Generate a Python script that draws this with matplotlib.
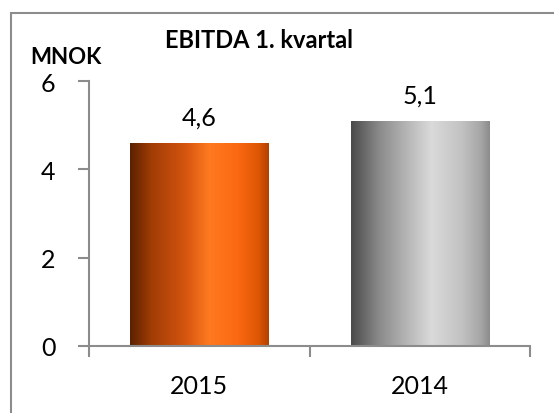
import matplotlib
matplotlib.use("Agg")
import matplotlib.pyplot as plt
import numpy as np
from matplotlib.colors import LinearSegmentedColormap
from matplotlib.patches import Rectangle

categories = ["2015", "2014"]
values = [4.6, 5.1]
value_labels = ["4,6", "5,1"]
yticks = [0, 2, 4, 6]
title = "EBITDA 1. kvartal"
unit = "MNOK"

plt.rcParams['font.family'] = ['Lato', 'DejaVu Sans']

fig = plt.figure(figsize=(5.54, 4.14), dpi=100)
# outer chart border
fig.patches.append(Rectangle((11/554, -0.1), 1.2, 1 - 14/414 + 0.1,
                             transform=fig.transFigure, fill=False,
                             edgecolor='#8c8c8c', linewidth=1.5))

ax = fig.add_axes([89/554, 1 - 347/414, (530 - 89)/554, (347 - 82)/414])
x = np.arange(len(categories))
bars = ax.bar(x, values, width=0.627, color='none', edgecolor='none', zorder=2)

orange = LinearSegmentedColormap.from_list('o', [
    (0.0, '#5a2200'), (0.15, '#a03c05'), (0.4, '#d55510'), (0.57, '#ff7a20'),
    (0.78, '#fb6810'), (0.93, '#dc5605'), (1.0, '#b04200')])
gray = LinearSegmentedColormap.from_list('g', [
    (0.0, '#4a4a4a'), (0.2, '#8a8a8a'), (0.4, '#b5b5b5'), (0.58, '#dadada'),
    (0.8, '#c2c2c2'), (0.94, '#a5a5a5'), (1.0, '#8c8c8c')])
grad = np.linspace(0, 1, 256).reshape(1, -1)
for b, cmap in zip(bars, [orange, gray]):
    x0, w, h = b.get_x(), b.get_width(), b.get_height()
    im = ax.imshow(grad, cmap=cmap, extent=[x0, x0 + w, 0, h], aspect='auto',
                   zorder=2, interpolation='bilinear')
    im.set_clip_path(b)

ax.set_xlim(-0.5, len(categories) - 0.5)
ax.set_ylim(0, 6)
ax.set_yticks(yticks)
ax.set_yticklabels([str(t) for t in yticks])
ax.set_xticks(x)
ax.set_xticklabels(categories)
ax.set_xticks([-0.5, 0.5, 1.5], minor=True)
ax.tick_params(axis='x', which='major', length=0, pad=20, labelsize=18)
ax.tick_params(axis='x', which='minor', length=8, width=1.5, color='#8c8c8c', direction='out')
ax.tick_params(axis='y', length=8, width=1.5, color='#8c8c8c', pad=16, labelsize=18)
for s in ['top', 'right']:
    ax.spines[s].set_visible(False)
for s in ['left', 'bottom']:
    ax.spines[s].set_color('#8c8c8c')
    ax.spines[s].set_linewidth(1.5)

for b, lab in zip(bars, value_labels):
    ax.annotate(lab, (b.get_x() + b.get_width() / 2, b.get_height()),
                xytext=(0, 10), textcoords='offset points', ha='center', va='bottom',
                fontsize=18)

fig.text(259/554, 1 - 41/414, title, ha='center', va='center', fontsize=17, fontweight='bold')
fig.text(66/554, 1 - 58/414, unit, ha='center', va='center', fontsize=16, fontweight='bold')

fig.savefig('out.png', dpi=100)
